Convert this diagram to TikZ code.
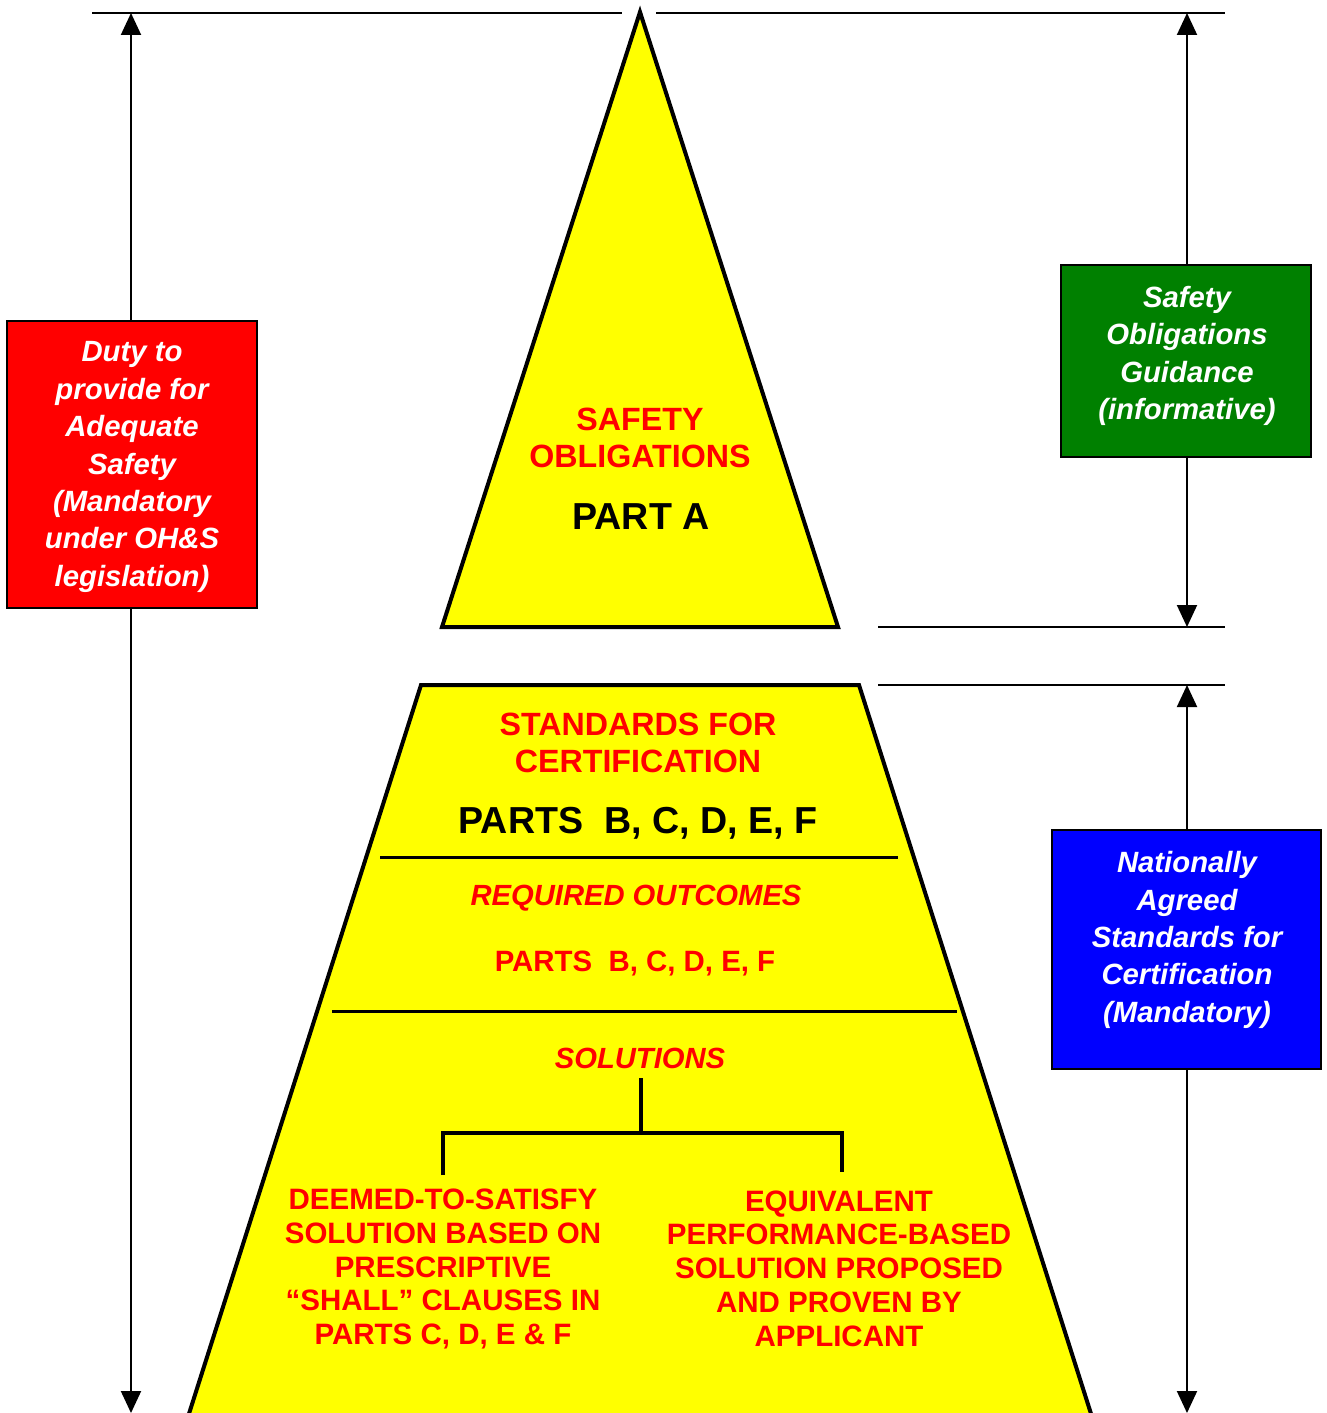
\documentclass[tikz,border=0pt]{standalone}
\usepackage{fontspec}
\setmainfont{Liberation Sans}
\usetikzlibrary{arrows.meta}
\definecolor{pyellow}{RGB}{255,255,0}
\definecolor{pred}{RGB}{255,0,0}
\definecolor{pgreen}{RGB}{0,128,0}
\definecolor{pblue}{RGB}{0,0,255}
\begin{document}
\begin{tikzpicture}[x=1pt,y=-1pt,
  dimline/.style={line width=2pt},
  dimarrow/.style={line width=2pt,{Triangle[width=20pt,length=22pt]}-{Triangle[width=20pt,length=22pt]}},
  pyr/.style={draw=black,line width=4pt,fill=pyellow,line join=miter},
  divider/.style={line width=3pt},
  tree/.style={line width=4.5pt},
  sidebox/.style={draw=black,line width=2pt,inner sep=0pt},
  boxtext/.style={text=white,font=\fontsize{29.3}{37.4}\selectfont\bfseries\itshape,align=center,inner sep=0pt},
  bigred/.style={text=pred,font=\fontsize{32.2}{37}\selectfont\bfseries,align=center,inner sep=0pt},
  bigblack/.style={text=black,font=\fontsize{37.6}{42}\selectfont\bfseries,align=center,inner sep=0pt},
  midred/.style={text=pred,font=\fontsize{29.4}{34}\selectfont\bfseries,align=center,inner sep=0pt},
  miditred/.style={text=pred,font=\fontsize{29.2}{34}\selectfont\bfseries\itshape,align=center,inner sep=0pt},
  smallred/.style={text=pred,font=\fontsize{29.5}{33.8}\selectfont\bfseries,align=center,inner sep=0pt}
]
\useasboundingbox (0,0) rectangle (1327,1413);

% dimension lines
\coordinate (tl1) at (92,13);
\coordinate (tl2) at (622,13);
\coordinate (tr1) at (656,13);
\coordinate (tr2) at (1225,13);
\coordinate (ml1) at (878,627);
\coordinate (ml2) at (1225,627);
\coordinate (nl1) at (878,685);
\coordinate (nl2) at (1225,685);
\draw[dimline] (tl1) -- (tl2);
\draw[dimline] (tr1) -- (tr2);
\draw[dimline] (ml1) -- (ml2);
\draw[dimline] (nl1) -- (nl2);

\coordinate (la) at (131,13);
\coordinate (lb) at (131,1413);
\coordinate (ra) at (1187,13);
\coordinate (rb) at (1187,627);
\coordinate (rc) at (1187,685);
\coordinate (rd) at (1187,1413);
\draw[dimarrow] (la) -- (lb);
\draw[dimarrow] (ra) -- (rb);
\draw[dimarrow] (rc) -- (rd);

% upper triangle
\coordinate (apex) at (640,12);
\coordinate (tbl) at (442,627);
\coordinate (tbr) at (838,627);
\draw[pyr] (apex) -- (tbr) -- (tbl) -- cycle;

% lower trapezoid
\coordinate (ztl) at (421,685);
\coordinate (ztr) at (859,685);
\coordinate (zbr) at (1093,1420);
\coordinate (zbl) at (187,1420);
\draw[pyr] (ztl) -- (ztr) -- (zbr) -- (zbl) -- cycle;

\coordinate (d1a) at (380,857);
\coordinate (d1b) at (898,857);
\coordinate (d2a) at (332,1011);
\coordinate (d2b) at (957,1011);
\draw[divider] (d1a) -- (d1b);
\draw[divider] (d2a) -- (d2b);

% solutions tree
\coordinate (s0) at (641,1078);
\coordinate (s1) at (641,1133);
\coordinate (sl) at (443,1175);
\coordinate (sr) at (842,1172);
\draw[tree] (s0) -- (s1);
\draw[tree] (sl) |- (s1) -| (sr);

% side boxes
\node[sidebox,fill=pred,minimum width=250pt,minimum height=287pt] (dutybox) at (132,464.5) {};
\node[boxtext] (dutytext) at (132,467) {Duty to\\provide for\\Adequate\\Safety\\(Mandatory\\under OH\&S\\legislation)};

\node[sidebox,fill=pgreen,minimum width=250pt,minimum height=192pt] (guidebox) at (1186,361) {};
\node[boxtext] (guidetext) at (1187,356) {Safety\\Obligations\\Guidance\\(informative)};

\node[sidebox,fill=pblue,minimum width=269pt,minimum height=239pt] (natbox) at (1186.5,949.5) {};
\node[boxtext] (nattext) at (1187,940) {Nationally\\Agreed\\Standards for\\Certification\\(Mandatory)};

% triangle texts
\node[bigred] (safety) at (640,437.5) {SAFETY\\OBLIGATIONS};
\node[bigblack] (parta) at (641,517) {PART A};

% trapezoid texts
\node[bigred] (standards) at (638,742.5) {STANDARDS FOR\\CERTIFICATION};
\node[bigblack] (partsb) at (638,823) {PARTS\ \ B, C, D, E, F};
\node[miditred] (required) at (636,898) {REQUIRED OUTCOMES};
\node[midred] (partsred) at (635,963) {PARTS\ \ B, C, D, E, F};
\node[miditred] (solutions) at (640,1058) {SOLUTIONS};
\node[smallred] (deemed) at (443,1269) {DEEMED-TO-SATISFY\\SOLUTION BASED ON\\PRESCRIPTIVE\\“SHALL” CLAUSES IN\\PARTS C, D, E \& F};
\node[smallred] (equiv) at (839,1268.5) {EQUIVALENT\\PERFORMANCE-BASED\\SOLUTION PROPOSED\\AND PROVEN BY\\APPLICANT};
\end{tikzpicture}
\end{document}
